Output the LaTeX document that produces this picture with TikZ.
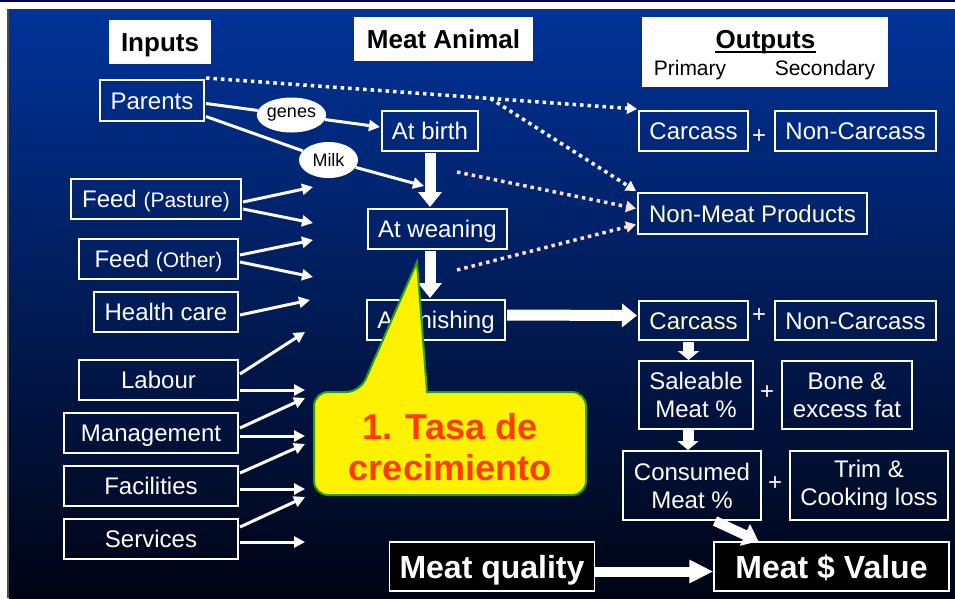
\documentclass[tikz,border=0pt]{standalone}
\usepackage{fontspec}
\setmainfont{Liberation Sans}
\usetikzlibrary{arrows.meta,shapes.geometric}
\definecolor{bgtop}{RGB}{0,51,153}
\definecolor{bgmid}{RGB}{0,30,100}
\definecolor{bgbot}{RGB}{0,4,20}
\definecolor{topline}{RGB}{0,0,100}
\definecolor{salmon}{RGB}{255,222,212}
\definecolor{paleyel}{RGB}{255,255,204}
\definecolor{calloutgreen}{RGB}{40,160,0}
\definecolor{tasared}{RGB}{255,60,0}
\newcommand{\boxfont}{\fontsize{24}{28}\selectfont}
\newcommand{\headfont}{\fontsize{26}{30}\selectfont\bfseries}
\newcommand{\bigfont}{\fontsize{32}{36}\selectfont\bfseries}

\begin{document}
\begin{tikzpicture}[x=1pt, y=-1pt,
  box/.style={draw=white, line width=1.5pt, text=white, font=\boxfont, inner sep=0pt, outer sep=2pt, minimum height=40pt, text height=17pt, text depth=0pt},
  pairbox/.style={draw=white, line width=1.5pt, text=white, font=\boxfont, inner sep=0pt, outer sep=1pt, align=center},
  headbox/.style={fill=white, text=black, font=\headfont, inner sep=0pt, minimum height=44pt, text height=19pt, text depth=0pt},
  blackbox/.style={fill=black, draw=white, line width=1.5pt, text=white, font=\bigfont, inner sep=0pt, minimum height=49pt, text height=23pt, text depth=0pt},
  bubble/.style={ellipse, fill=white, text=black, font=\fontsize{18}{20}\selectfont, inner sep=0pt, minimum width=59pt, minimum height=35pt},
  plussign/.style={text=white, font=\boxfont, inner sep=0pt},
  inarrow/.style={white, line width=3pt, -{Triangle[length=11pt,width=11pt]}},
  fatarrow/.style={white, line width=11pt, -{Triangle[length=15pt,width=23pt]}},
  dotarrow/.style={white, line width=3.5pt, dash pattern=on 3.5pt off 4pt, -{Triangle[length=10pt,width=11pt]}},
  pinkarrow/.style={salmon, line width=3.5pt, dash pattern=on 3.5pt off 4pt, -{Triangle[length=10pt,width=11pt,fill=white]}}]

\useasboundingbox (0,0) rectangle (955,598);
\fill[white] (0,0) rectangle (955,598);
\fill[topline] (0,0) rectangle (955,2);
\shade[top color=bgtop, middle color=bgmid, bottom color=bgbot] (9,9) rectangle (955,598);
\draw[black!70, line width=1.5pt] (8,9) -- (8,598);

% headings
\node[headbox, minimum width=102pt] (inputs) at (160,42) {Inputs};
\node[headbox, minimum width=179pt] (animal) at (443.5,39) {Meat Animal};
\node[fill=white, minimum width=246pt, minimum height=70pt, inner sep=0pt] (outbox) at (765,52) {};
\node[anchor=base, inner sep=0pt, font=\headfont] (outtitle) at (765.5,48) {Outputs};
\draw[line width=2.5pt] ([yshift=-4pt]outtitle.base west) -- ([yshift=-4pt]outtitle.base east);
\node[anchor=base, inner sep=0pt, font=\fontsize{21}{24}\selectfont] (primary) at (690,75) {Primary};
\node[anchor=base, inner sep=0pt, font=\fontsize{21}{24}\selectfont] (secondary) at (825,75) {Secondary};

% inputs
\node[box, minimum width=104pt, minimum height=41pt] (parents) at (152,100.5) {Parents};
\node[box, minimum width=170pt] (pasture) at (156,199) {Feed {\fontsize{21}{24}\selectfont(Pasture)}};
\node[box, minimum width=159pt] (other) at (158.5,259) {Feed {\fontsize{21}{24}\selectfont(Other)}};
\node[box, minimum width=144pt] (health) at (166,312) {Health care};
\node[box, minimum width=159pt] (labour) at (158.5,380) {Labour};
\node[box, minimum width=174pt] (mgmt) at (151,433) {Management};
\node[box, minimum width=174pt] (facil) at (151,486) {Facilities};
\node[box, minimum width=174pt] (serv) at (151,539) {Services};

% animal stages
\node[box, minimum width=96pt] (birth) at (430,131) {At birth};
\node[box, minimum width=139pt] (weaning) at (437.5,229) {At weaning};
\node[box, minimum width=138pt] (finish) at (436,320) {At finishing};

\node[bubble] (genes) at (291.5,115) {genes};
\node[bubble, minimum height=36pt] (milk) at (328.5,160) {Milk};

% outputs
\node[box, minimum width=109pt] (carcA) at (693.5,131) {Carcass};
\node[plussign] (plusA) at (759,137) {+};
\node[box, minimum width=161pt] (noncarcA) at (855.5,131) {Non-Carcass};
\node[box, minimum width=229pt, minimum height=41pt, text=paleyel] (nonmeat) at (752.5,213.5) {Non-Meat Products};
\node[box, minimum width=109pt, minimum height=39pt, text=paleyel] (carcB) at (693.5,320.5) {Carcass};
\node[plussign] (plusB) at (759,316) {+};
\node[box, minimum width=161pt, minimum height=39pt] (noncarcB) at (855.5,320.5) {Non-Carcass};
\node[pairbox, minimum width=114pt, minimum height=68pt] (sale) at (696,395) {Saleable\\Meat \%};
\node[plussign] (plusC) at (767,393) {+};
\node[pairbox, minimum width=130pt, minimum height=68pt] (bone) at (847,395) {Bone \&\\excess fat};
\node[pairbox, minimum width=138pt, minimum height=69pt] (cons) at (692,485.5) {Consumed\\Meat \%};
\node[plussign] (plusD) at (775,484) {+};
\node[pairbox, minimum width=158pt, minimum height=69pt] (trim) at (869,485.5) {Trim \&\\Cooking loss};
\node[blackbox, minimum width=205pt] (quality) at (492,566.5) {Meat quality};
\node[blackbox, minimum width=235pt] (value) at (831.5,566.5) {Meat \$ Value};

% free ends
\coordinate (milkend) at (424,186);
\coordinate (pinkA) at (457,172);
\coordinate (pinkB) at (457,270);
\coordinate (pas1) at (313,187);
\coordinate (pas2) at (313,223);
\coordinate (oth1) at (313,240);
\coordinate (oth2) at (313,277);
\coordinate (hea1) at (310,300);
\coordinate (lab1) at (305,332);
\coordinate (lab2) at (305,390);
\coordinate (man1) at (305,398);
\coordinate (man2) at (305,436);
\coordinate (fac1) at (305,444);
\coordinate (fac2) at (305,489);
\coordinate (ser1) at (305,497);
\coordinate (ser2) at (305,542);

% parents
\draw[white, line width=3pt] ([yshift=-3pt]parents.east) -- (genes);
\draw[inarrow] (genes) -- ([yshift=4pt]birth.west);
\draw[white, line width=3pt] ([yshift=-16pt]parents.east) -- (milk);
\draw[inarrow] (milk) -- (milkend);
\draw[dotarrow] (parents.north east) -- coordinate[pos=0.66] (split) (carcA.north west);
\draw[dotarrow] (split) -- (nonmeat.north west);
\draw[pinkarrow] (pinkA) -- ([yshift=5pt]nonmeat.west);
\draw[pinkarrow] (pinkB) -- ([yshift=-11pt]nonmeat.west);

% inputs to the animal
\draw[inarrow] ([yshift=-3pt]pasture.east) -- (pas1);
\draw[inarrow] ([yshift=-10pt]pasture.east) -- (pas2);
\draw[inarrow] ([yshift=4pt]other.east) -- (oth1);
\draw[inarrow] ([yshift=-3pt]other.east) -- (oth2);
\draw[inarrow] ([yshift=-3pt]health.east) -- (hea1);
\draw[inarrow] ([yshift=6pt]labour.east) -- (lab1);
\draw[inarrow] ([yshift=-10pt]labour.east) -- (lab2);
\draw[inarrow] ([yshift=5pt]mgmt.east) -- (man1);
\draw[inarrow] ([yshift=-3pt]mgmt.east) -- (man2);
\draw[inarrow] ([yshift=13pt]facil.east) -- (fac1);
\draw[inarrow] ([yshift=-3pt]facil.east) -- (fac2);
\draw[inarrow] ([yshift=12pt]serv.east) -- (ser1);
\draw[inarrow] ([yshift=-3pt]serv.east) -- (ser2);

% main flow
\draw[fatarrow] (birth.south) -- (birth.south |- weaning.north);
\draw[fatarrow] (birth.south |- weaning.south) -- (birth.south |- finish.north);
\draw[fatarrow] ([yshift=5pt]finish.east) -- ([yshift=5pt]carcB.west);
\draw[fatarrow, -{Triangle[length=9pt,width=21pt]}] ([xshift=-5pt]carcB.south) -- ([xshift=-5pt]carcB.south |- sale.north);
\draw[fatarrow, -{Triangle[length=9pt,width=21pt]}] ([xshift=-8pt]sale.south) -- ([xshift=-8pt]sale.south |- cons.north);
\draw[fatarrow, line width=10pt] ([xshift=23pt]cons.south) -- ([xshift=-73pt]value.north);
\draw[fatarrow, line width=10pt, -{Triangle[length=24pt,width=22pt]}] ([yshift=-5pt]quality.east) -- ([yshift=-5pt]value.west);

% callout
\filldraw[fill=yellow, draw=calloutgreen, line width=2pt, rounded corners=14pt] (450,495) -- (314,495) -- (314,392) -- (360,392) [sharp corners] -- (417,262) -- (427,392) [rounded corners=14pt] -- (586,392) -- (586,495) -- cycle;
\node[align=center, text=tasared, font=\fontsize{36}{41}\selectfont\bfseries, inner sep=0pt] (rate) at (450,447) {1. Tasa de\\crecimiento};

\end{tikzpicture}
\end{document}
